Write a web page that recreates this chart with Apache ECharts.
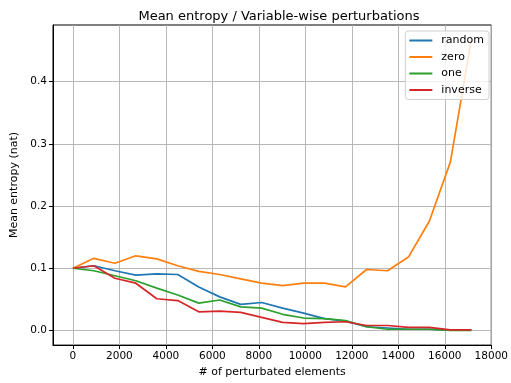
<!DOCTYPE html>
<html>
<head>
<meta charset="utf-8">
<script src="https://cdn.jsdelivr.net/npm/echarts@6/dist/echarts.min.js"></script>
<style>
	html, body { margin: 0; padding: 0; background: #fff; }
	#chart { width: 511px; height: 383px; }
</style>
</head>
<body>
<div id="chart"></div>
<script>
	// number of perturbated elements (x)
	const elements = [0, 902, 1805, 2707, 3609, 4511, 5414, 6316, 7218, 8120,
		9023, 9925, 10827, 11729, 12632, 13534, 14436, 15338, 16241, 17143];
	const randomVals = [0.100, 0.104, 0.096, 0.089, 0.091, 0.090, 0.070, 0.054, 0.042, 0.045,
		0.036, 0.028, 0.019, 0.015, 0.006, 0.004, 0.002, 0.002, 0.0005, 0.0005];
	const zeroVals = [0.100, 0.116, 0.108, 0.120, 0.115, 0.104, 0.095, 0.090, 0.083, 0.076,
		0.072, 0.076, 0.076, 0.070, 0.098, 0.096, 0.118, 0.176, 0.271, 0.468];
	const oneVals = [0.100, 0.096, 0.088, 0.080, 0.068, 0.057, 0.044, 0.049, 0.038, 0.036,
		0.026, 0.020, 0.019, 0.016, 0.006, 0.002, 0.002, 0.002, 0.000, 0.000];
	const inverseVals = [0.100, 0.104, 0.084, 0.076, 0.051, 0.048, 0.030, 0.031, 0.029, 0.021,
		0.013, 0.011, 0.013, 0.014, 0.008, 0.008, 0.005, 0.005, 0.001, 0.001];
	const xTicks = [0, 2000, 4000, 6000, 8000, 10000, 12000, 14000, 16000, 18000];
	const yTicks = [0.0, 0.1, 0.2, 0.3, 0.4];

	const font = 'DejaVu Sans';
	function pairs(vals) {
		return elements.map((x, i) => [x, vals[i]]);
	}
	function line(name, vals, color) {
		return {
			name: name,
			type: 'line',
			data: pairs(vals),
			showSymbol: false,
			symbol: 'none',
			lineStyle: { color: color, width: 1.7 },
			itemStyle: { color: color },
			z: 3
		};
	}

	let chart = echarts.init(document.getElementById('chart'));
	const option = {
		animation: false,
		backgroundColor: '#fff',
		title: {
			text: 'Mean entropy / Variable-wise perturbations',
			left: 274,
			top: 5,
			textAlign: 'center',
			textStyle: { fontFamily: font, fontSize: 13, fontWeight: 'normal', color: '#000' }
		},
		legend: {
			orient: 'vertical',
			right: 22,
			top: 31,
			icon: 'rect',
			itemWidth: 23,
			itemHeight: 2,
			itemGap: 5.5,
			padding: [4, 5, 4, 4],
			borderColor: '#d0d0d0',
			borderWidth: 1,
			borderRadius: 3,
			backgroundColor: 'rgba(255,255,255,0.8)',
			textStyle: { fontFamily: font, fontSize: 11, color: '#000', padding: [0, 0, 0, 4] },
			data: ['random', 'zero', 'one', 'inverse']
		},
		grid: {
			left: 53,
			right: 16,
			top: 25,
			bottom: 35,
			show: true,
			borderColor: '#000',
			borderWidth: 1,
			containLabel: false
		},
		xAxis: {
			type: 'value',
			min: -857,
			max: 18000,
			name: '# of perturbated elements',
			nameLocation: 'middle',
			nameGap: 21,
			nameTextStyle: { fontFamily: font, fontSize: 11, color: '#000' },
			axisLine: { show: true, onZero: false, lineStyle: { color: '#000', width: 1 } },
			axisTick: { show: true, length: 4, customValues: xTicks, lineStyle: { color: '#000' } },
			axisLabel: {
				customValues: xTicks, margin: 6, fontFamily: font, fontSize: 10.5, color: '#000',
				formatter: v => String(v)
			},
			splitLine: { show: true, lineStyle: { color: '#b0b0b0', width: 0.9 } }
		},
		yAxis: {
			type: 'value',
			min: -0.0235,
			max: 0.491,
			name: 'Mean entropy (nat)',
			nameLocation: 'middle',
			nameGap: 27,
			nameTextStyle: { fontFamily: font, fontSize: 11, color: '#000' },
			axisLine: { show: true, onZero: false, lineStyle: { color: '#000', width: 1 } },
			axisTick: { show: true, length: 4, customValues: yTicks, lineStyle: { color: '#000' } },
			axisLabel: {
				customValues: yTicks, margin: 6, fontFamily: font, fontSize: 10.5, color: '#000',
				formatter: v => v.toFixed(1)
			},
			splitLine: { show: true, lineStyle: { color: '#b0b0b0', width: 0.9 } }
		},
		series: [
			line('random', randomVals, '#1f77b4'),
			line('zero', zeroVals, '#ff7f0e'),
			line('one', oneVals, '#2ca02c'),
			line('inverse', inverseVals, '#d62728')
		]
	};
	chart.setOption(option);
	window.addEventListener('resize', () => {
		chart.resize();
	});
</script>
</body>
</html>
